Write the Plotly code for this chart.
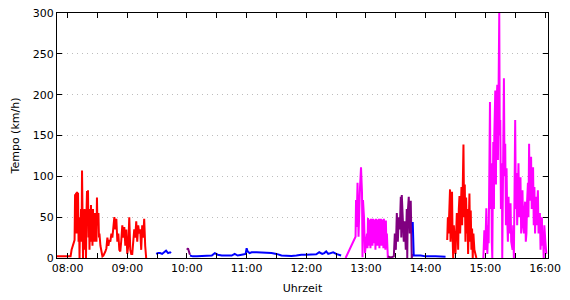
import plotly.graph_objects as go

DAY = "2024-01-01 "

# ---- data (time of day, speed km/h) ----
red1_t = ["07:49:20", "07:55", "08:02", "08:03", "08:04", "08:05", "08:06", "08:07", "08:07:30", "08:08",
          "08:08:30", "08:09", "08:09:30", "08:10", "08:10:30", "08:11", "08:11:30", "08:12", "08:12:30", "08:13",
          "08:13:30", "08:14", "08:14:30", "08:15", "08:15:30", "08:16", "08:16:30", "08:17", "08:17:30", "08:18",
          "08:18:30", "08:19", "08:19:30", "08:20", "08:20:30", "08:21", "08:21:30", "08:22", "08:22:30", "08:23",
          "08:23:30", "08:24", "08:24:30", "08:25", "08:25:30", "08:26", "08:26:30", "08:27", "08:27:30", "08:28",
          "08:28:30", "08:29", "08:29:30", "08:30", "08:31", "08:31:30", "08:32", "08:33", "08:34", "08:35",
          "08:36", "08:37", "08:38", "08:39", "08:40", "08:41", "08:42", "08:43", "08:44", "08:45",
          "08:46", "08:47", "08:48", "08:49", "08:50", "08:51", "08:52", "08:53", "08:54", "08:55",
          "08:56", "08:57", "08:58", "08:59", "09:00", "09:01", "09:02", "09:03", "09:04", "09:05",
          "09:06", "09:07", "09:08", "09:09", "09:10", "09:11", "09:12", "09:13", "09:14", "09:15",
          "09:16", "09:17", "09:18", "09:18:30", "09:19"]
red1_v = [2, 2, 2, 2, 10, 15, 18, 22, 78, 45,
          80, 30, 81, 55, 80, 20, 45, 0, 50, 30,
          60, 20, 107, 40, 0, 45, 20, 60, 10, 50,
          0, 55, 82, 40, 83, 25, 60, 10, 45, 20,
          65, 30, 50, 15, 60, 25, 45, 20, 55, 30,
          50, 20, 74, 40, 55, 25, 30, 15, 5, 2,
          3, 5, 8, 12, 25, 15, 22, 20, 30, 25,
          40, 50, 35, 48, 20, 30, 10, 8, 22, 40,
          25, 38, 15, 35, 5, 15, 50, 10, 5, 5,
          20, 35, 25, 45, 20, 40, 30, 35, 10, 40,
          25, 48, 15, 5, 0]

blueA_t = ["09:29", "09:31", "09:33", "09:35", "09:37", "09:39", "09:41", "09:43", "09:44"]
blueA_v = [5, 6, 6, 5, 7, 9, 6, 7, 6]

purpleA_t = ["10:00", "10:01", "10:02", "10:03"]
purpleA_v = [10, 12, 8, 4]

blueB_t = ["10:03", "10:06", "10:10", "10:15", "10:20", "10:25", "10:28", "10:31", "10:35", "10:40",
           "10:45", "10:48", "10:51", "10:55", "10:59", "11:00", "11:01", "11:03", "11:05", "11:10",
           "11:15", "11:20", "11:25", "11:30", "11:35", "11:40", "11:45", "11:50", "11:55", "12:00",
           "12:05", "12:10", "12:13", "12:16", "12:18", "12:20", "12:22", "12:24", "12:27", "12:30",
           "12:33", "12:35"]
blueB_v = [3, 2, 2, 2.5, 2.5, 3, 6, 4, 3, 3,
           3, 5, 3, 4, 5, 12, 8, 6, 7, 7,
           7, 6.5, 6, 5, 3, 2.5, 2.5, 3, 4, 4,
           4, 4.5, 7, 5, 6, 8, 5, 6, 7, 5,
           4, 3]

magentaA_t = ["12:39:30", "12:49:30", "12:50", "12:50:30", "12:51:30", "12:52:30", "12:54", "12:55", "12:56", "12:56:30",
              "12:57", "12:58", "12:59", "13:00", "13:01", "13:01:30", "13:02", "13:02:30", "13:03", "13:03:30",
              "13:04", "13:04:30", "13:05", "13:05:30", "13:06", "13:06:30", "13:07", "13:07:30", "13:08", "13:08:30",
              "13:09", "13:09:30", "13:10", "13:10:30", "13:11", "13:11:30", "13:12", "13:12:30", "13:13", "13:13:30",
              "13:14", "13:14:30", "13:15", "13:15:30", "13:16", "13:16:30", "13:17", "13:17:30", "13:18", "13:18:30",
              "13:19", "13:19:30", "13:20", "13:20:30", "13:21", "13:22"]
magentaA_v = [0, 26, 71, 38, 92, 26, 87, 111, 80, 1,
              71, 50, 6, 18, 30, 12, 49, 15, 45, 20,
              47, 12, 48, 25, 46, 15, 48, 20, 45, 18,
              47, 10, 48, 25, 44, 15, 47, 22, 48, 12,
              46, 20, 48, 15, 45, 25, 47, 12, 48, 20,
              44, 10, 46, 15, 30, 0]

purpleB_t = ["13:22", "13:24", "13:26", "13:28", "13:29", "13:30", "13:31", "13:32", "13:33", "13:34",
             "13:35", "13:35:30", "13:36", "13:37", "13:38", "13:39", "13:40", "13:41", "13:41:30", "13:42",
             "13:43", "13:44", "13:45", "13:46", "13:47"]
purpleB_v = [2, 1, 1, 2, 30, 10, 55, 20, 50, 35,
             75, 25, 77, 40, 20, 45, 10, 60, 0, 55,
             75, 30, 70, 0, 5]

blueC_t = ["13:47", "13:47:30", "13:48", "13:55", "14:00", "14:10", "14:15", "14:20"]
blueC_v = [44, 5, 3, 3, 2, 2, 1.5, 1.5]

red2_t = ["14:21:40", "14:22:20", "14:23", "14:23:40", "14:24:30", "14:25", "14:25:40", "14:26:30", "14:27", "14:27:40",
          "14:28:20", "14:29", "14:30", "14:30:40", "14:31:20", "14:32", "14:32:40", "14:33:20", "14:34", "14:34:40",
          "14:35:20", "14:36", "14:36:40", "14:37:20", "14:38", "14:38:40", "14:39:20", "14:40", "14:40:40", "14:41:20",
          "14:42", "14:42:40", "14:43:20", "14:44", "14:44:40", "14:45:20", "14:46", "14:46:40", "14:47:20", "14:48",
          "14:49", "14:50", "14:51"]
red2_v = [22, 50, 30, 70, 84, 20, 60, 81, 30, 0,
          40, 15, 5, 30, 55, 42, 10, 60, 76, 30,
          80, 87, 40, 100, 139, 50, 90, 20, 74, 30,
          60, 5, 50, 79, 20, 58, 10, 36, 0, 30,
          10, 5, 0]

magentaB_t = ["14:58", "14:59", "15:00", "15:01", "15:02", "15:03", "15:03:20", "15:04", "15:04:40", "15:05:20",
              "15:06", "15:06:30", "15:07", "15:07:30", "15:08", "15:08:40", "15:09", "15:10", "15:10:40", "15:11",
              "15:12", "15:12:40", "15:13", "15:14", "15:14:30", "15:15", "15:15:40", "15:16:40", "15:17", "15:17:40",
              "15:18:40", "15:19:20", "15:20", "15:20:40", "15:21:20", "15:22", "15:22:40", "15:23:20", "15:24", "15:24:40",
              "15:25:20", "15:26", "15:27:20", "15:28", "15:28:40", "15:29:20", "15:30", "15:30:40", "15:31:20", "15:32",
              "15:32:40", "15:33:20", "15:34", "15:34:40", "15:35:20", "15:36", "15:36:40", "15:37:20", "15:38", "15:38:50",
              "15:39:30", "15:40", "15:40:40", "15:41:20", "15:42", "15:42:50", "15:43:20", "15:44", "15:44:40", "15:45:20",
              "15:46", "15:46:40", "15:47:20", "15:48", "15:48:40", "15:49:20", "15:50", "15:50:50", "15:51:30", "15:52:10",
              "15:52:50", "15:53:30", "15:54:10", "15:54:50", "15:55:30", "15:56:10", "15:56:50", "15:57:30", "15:58", "15:58:40",
              "15:59:20", "16:00:20", "16:01:20"]
magentaB_v = [0, 34, 10, 61, 5, 40, 18, 120, 191, 60,
              116, 20, 0, 80, 142, 60, 150, 205, 90, 180,
              212, 120, 200, 300, 150, 169, 60, 116, 0, 140,
              220, 100, 140, 40, 110, 50, 20, 75, 30, 38,
              67, 20, 10, 40, 0, 80, 169, 60, 104, 40,
              90, 116, 50, 80, 99, 30, 60, 83, 40, 30,
              60, 69, 20, 30, 70, 92, 50, 140, 70, 110,
              124, 60, 90, 111, 40, 87, 30, 75, 40, 60,
              83, 30, 50, 55, 10, 40, 50, 15, 30, 0,
              40, 20, 5]

y_ticks = [0, 50, 100, 150, 200, 250, 300]

RED, BLUE, PURPLE, MAGENTA = "#ff0000", "#0000ff", "#800080", "#ff00ff"

series = [
    (red1_t, red1_v, RED),
    (blueA_t, blueA_v, BLUE),
    (purpleA_t, purpleA_v, PURPLE),
    (blueB_t, blueB_v, BLUE),
    (magentaA_t, magentaA_v, MAGENTA),
    (purpleB_t, purpleB_v, PURPLE),
    (blueC_t, blueC_v, BLUE),
    (red2_t, red2_v, RED),
    (magentaB_t, magentaB_v, MAGENTA),
]

fig = go.Figure()
for t, v, c in series:
    fig.add_trace(go.Scatter(x=[DAY + s for s in t], y=v, mode="lines",
                             line=dict(color=c, width=2), showlegend=False,
                             hoverinfo="skip"))

font = dict(family="DejaVu Sans", size=11, color="#000000")

fig.update_layout(
    width=570, height=300,
    margin=dict(l=57, r=22, t=13, b=42, autoexpand=False),
    paper_bgcolor="white", plot_bgcolor="white",
    font=font,
    xaxis=dict(
        range=[DAY + "07:49:20", DAY + "16:03"],
        tickformat="%H:%M", dtick=3600000, tick0=DAY + "08:00",
        ticks="inside", ticklen=5, tickcolor="black",
        showline=True, linecolor="black", linewidth=1, mirror="ticks",
        showgrid=False, zeroline=False, automargin=False,
        minor=dict(dtick=1800000, tick0=DAY + "08:00", ticks="inside", ticklen=5, tickcolor="black", showgrid=False),
        title=dict(text="Uhrzeit", font=font, standoff=10),
        tickfont=font,
    ),
    yaxis=dict(
        range=[0, 300], tickvals=y_ticks,
        ticks="inside", ticklen=5, tickcolor="black",
        showline=True, linecolor="black", linewidth=1, mirror="ticks",
        showgrid=True, gridcolor="#bdbdbd", griddash="1px,4px", gridwidth=1,
        zeroline=False, automargin=False,
        title=dict(text="Tempo (km/h)", font=font, standoff=10),
        tickfont=font,
    ),
)

fig.write_html("out.html")
